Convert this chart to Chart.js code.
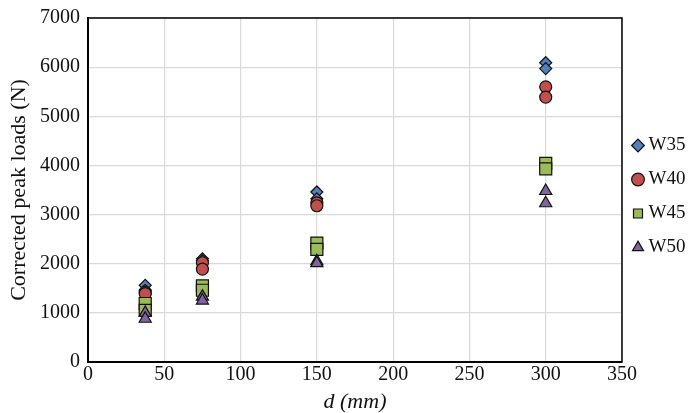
<!DOCTYPE html>
<html>
<head>
<meta charset="utf-8">
<script src="https://cdn.jsdelivr.net/npm/chart.js@4.4.0/dist/chart.umd.min.js"></script>
<style>
  html, body { margin: 0; padding: 0; background: #fff; }
  #wrap { width: 688px; height: 413px; }
</style>
</head>
<body>
<div id="wrap"><canvas id="myChart" width="688" height="413"></canvas></div>
<script>
// ******************* data

let seriesNames = ['W35', 'W40', 'W45', 'W50'];
let dValues = [37.5, 37.5, 75, 75, 150, 150, 300, 300];
let w35 = [1560, 1460, 2100, 2060, 3460, 3320, 6090, 5970];
let w40 = [1420, 1390, 2020, 1890, 3240, 3180, 5600, 5390];
let w45 = [1190, 1050, 1550, 1460, 2420, 2290, 4040, 3930];
let w50 = [1000, 880, 1330, 1250, 2050, 2010, 3480, 3230];
let xTicks = [0, 50, 100, 150, 200, 250, 300, 350];
let yTicks = [0, 1000, 2000, 3000, 4000, 5000, 6000, 7000];

// ******************* helpers

function toPoints(values){
  let pts = [];
  for(let i = 0; i < values.length; i++){
    pts.push({x: dValues[i], y: values[i]});
  }
  return pts;
}

let serif = "'Liberation Serif', 'Times New Roman', serif";

// draw the black box round the plot area
let frame = {
  id: 'frame',
  afterDraw(chart){
    let a = chart.chartArea;
    let c = chart.ctx;
    c.save();
    c.strokeStyle = '#000';
    c.lineWidth = 1.5;
    c.strokeRect(a.left, a.top, a.right - a.left, a.bottom - a.top);
    c.restore();
  }
};

let ctx = document.getElementById('myChart');

let myChartObj = {
  type: 'scatter',
  data: {
    datasets: [
      {label: seriesNames[0], data: toPoints(w35), pointStyle: 'rectRot', pointRadius: 6, backgroundColor: '#4f81bd', order: 4},
      {label: seriesNames[1], data: toPoints(w40), pointStyle: 'circle', pointRadius: 6, backgroundColor: '#c0504d', order: 3},
      {label: seriesNames[2], data: toPoints(w45), pointStyle: 'rect', pointRadius: 8.5, backgroundColor: '#9bbb59', order: 2},
      {label: seriesNames[3], data: toPoints(w50), pointStyle: 'triangle', pointRadius: 7, backgroundColor: '#8064a2', order: 1}
    ]
  },
  options: {
    responsive: false,
    animation: false,
    layout: {padding: {left: 4, right: 0, top: 16, bottom: 0}},
    elements: {point: {borderColor: '#111', borderWidth: 1.2, hoverRadius: 6}},
    plugins: {
      tooltip: {enabled: false},
      legend: {
        position: 'right',
        align: 'start',
        maxWidth: 66,
        // empty title only pushes the items down to the middle
        title: {display: true, text: '', padding: {top: 93, bottom: 0}, font: {size: 10}},
        labels: {
          usePointStyle: true,
          boxWidth: 2,
          boxHeight: 9,
          padding: 15,
          color: '#111',
          font: {family: serif, size: 19, lineHeight: 1},
          sort: (a, b) => a.datasetIndex - b.datasetIndex
        }
      }
    },
    scales: {
      x: {
        type: 'linear',
        min: 0,
        max: 350,
        afterBuildTicks: (axis) => { axis.ticks = xTicks.map(v => ({value: v})); },
        grid: {color: '#d9d9d9', lineWidth: 1.2, drawTicks: false},
        border: {color: '#000', width: 2},
        ticks: {color: '#111', padding: 3, font: {family: serif, size: 20, lineHeight: 1}, callback: (v) => String(v)},
        title: {display: true, text: 'd (mm)', color: '#111', padding: {top: 3, bottom: 0}, font: {family: serif, size: 22, style: 'italic', lineHeight: 1}}
      },
      y: {
        type: 'linear',
        min: 0,
        max: 7000,
        afterBuildTicks: (axis) => { axis.ticks = yTicks.map(v => ({value: v})); },
        grid: {color: '#d9d9d9', lineWidth: 1.2, drawTicks: false},
        border: {color: '#000', width: 2},
        ticks: {color: '#111', padding: 8, font: {family: serif, size: 20, lineHeight: 1}, callback: (v) => String(v)},
        title: {display: true, text: 'Corrected peak loads (N)', color: '#111', padding: {top: 4, bottom: 2}, font: {family: serif, size: 22, lineHeight: 1}}
      }
    }
  },
  plugins: [frame]
};

new Chart(ctx, myChartObj);
</script>
</body>
</html>
